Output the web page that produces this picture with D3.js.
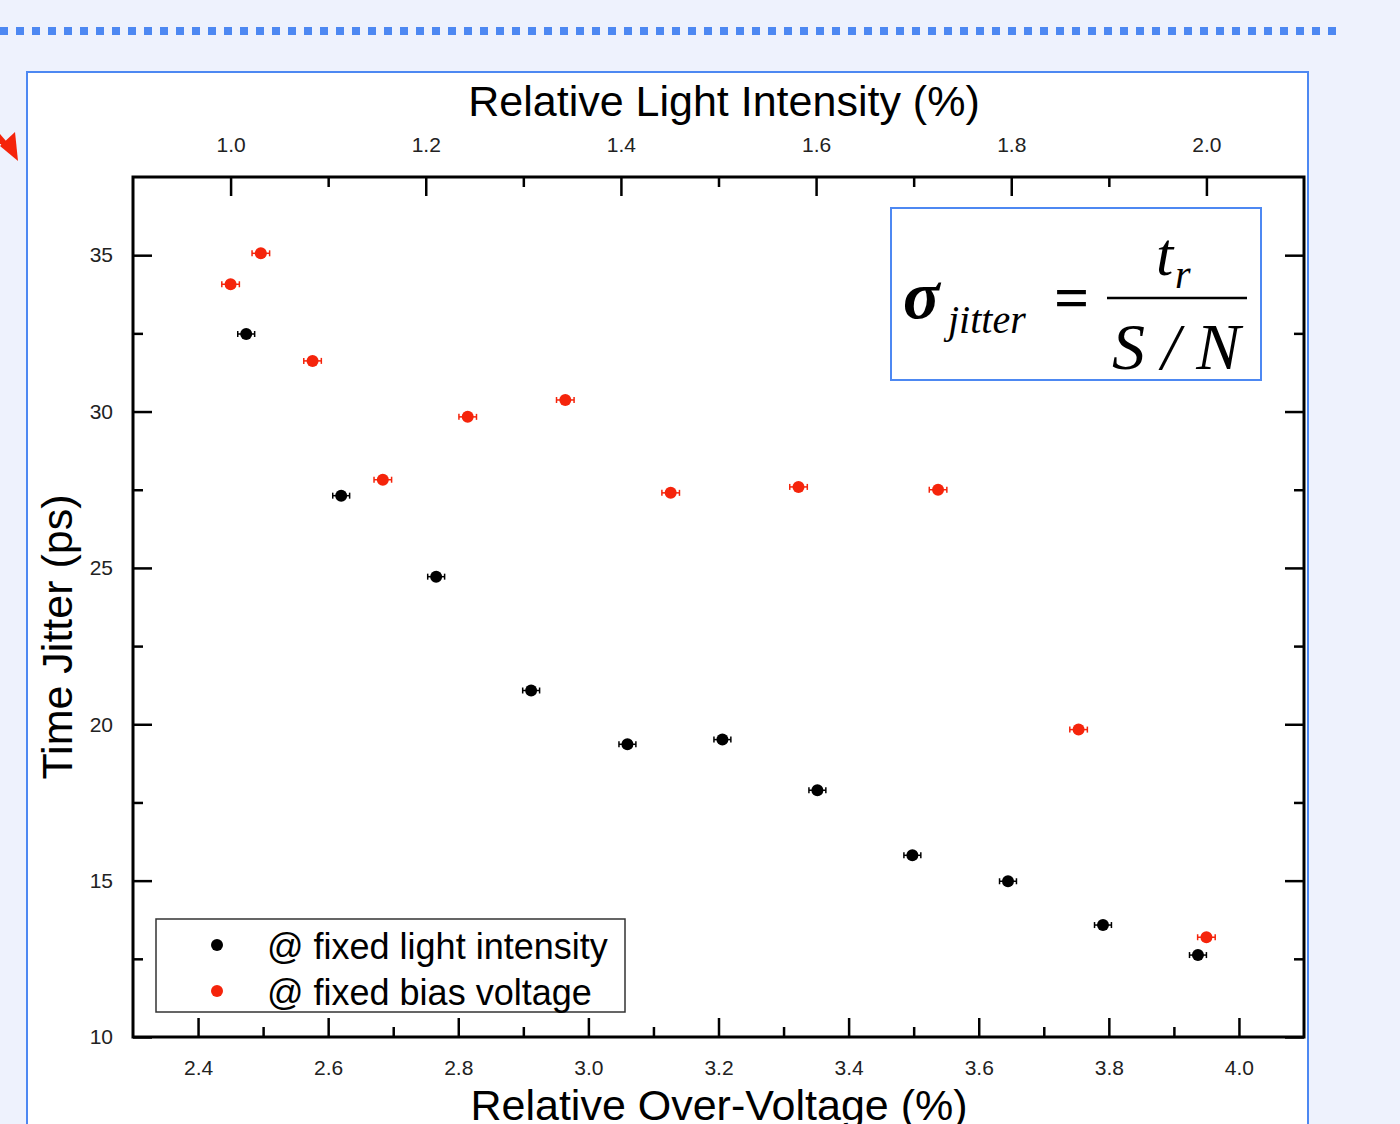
<!DOCTYPE html>
<html>
<head>
<meta charset="utf-8">
<script src="https://cdn.jsdelivr.net/npm/d3@7"></script>
<style>
  html, body { margin: 0; padding: 0; background: #eef2fd; }
  svg { display: block; }
</style>
</head>
<body>
<script>
// Data
// =================================
// black points: time jitter vs relative over-voltage (bottom axis)
let overVoltage = [2.474, 2.62, 2.766, 2.912, 3.06, 3.206, 3.352, 3.498, 3.645, 3.791, 3.937];
let jitterFixedLight = [32.48, 27.31, 24.72, 21.08, 19.36, 19.51, 17.89, 15.81, 14.98, 13.58, 12.62];
let overVoltageErr = [0.013, 0.013, 0.013, 0.013, 0.013, 0.013, 0.013, 0.013, 0.013, 0.013, 0.013];

// red points: time jitter vs relative light intensity (top axis)
let lightIntensity = [1.0, 1.031, 1.084, 1.156, 1.243, 1.343, 1.451, 1.582, 1.725, 1.869, 2.0];
let jitterFixedBias = [34.07, 35.06, 31.62, 27.82, 29.83, 30.37, 27.40, 27.59, 27.50, 19.83, 13.19];
let lightIntensityErr = [0.009, 0.009, 0.009, 0.009, 0.009, 0.009, 0.009, 0.009, 0.009, 0.009, 0.009];

let bottomTicks = [2.4, 2.6, 2.8, 3.0, 3.2, 3.4, 3.6, 3.8, 4.0];
let bottomMinor = [2.5, 2.7, 2.9, 3.1, 3.3, 3.5, 3.7, 3.9];
let topTicks = [1.0, 1.2, 1.4, 1.6, 1.8, 2.0];
let topMinor = [1.1, 1.3, 1.5, 1.7, 1.9];
let leftTicks = [10, 15, 20, 25, 30, 35];
let leftMinor = [12.5, 17.5, 22.5, 27.5, 32.5];

let legendLabels = ['@ fixed light intensity', '@ fixed bias voltage'];

// Set up our chart
//= ================================
let svgWidth = 1400;
let svgHeight = 1124;
let margin = { top: 177, right: 96, bottom: 87, left: 133 };
let width = svgWidth - margin.left - margin.right;
let height = svgHeight - margin.top - margin.bottom;

let blue = '#4d88f2';
let red = '#f5240b';
let font = "'Liberation Sans', Arial, sans-serif";
let serif = "'Liberation Serif', 'Times New Roman', serif";

let svg = d3.select('body')
  .append('svg')
  .attr('width', svgWidth)
  .attr('height', svgHeight);

// slide decoration: dotted rule, red arrow, white panel
svg.append('line')
  .attr('x1', 0).attr('x2', 1336)
  .attr('y1', 31).attr('y2', 31)
  .attr('stroke', blue)
  .attr('stroke-width', 8)
  .attr('stroke-dasharray', '8,8');

svg.append('line')
  .attr('x1', -20).attr('y1', 115)
  .attr('x2', 8).attr('y2', 148)
  .attr('stroke', red)
  .attr('stroke-width', 6);
svg.append('polygon')
  .attr('points', '18,161 0,146 15,132')
  .attr('fill', red);

svg.append('rect')
  .attr('x', 27).attr('y', 72)
  .attr('width', 1281).attr('height', 1100)
  .attr('fill', 'white')
  .attr('stroke', blue)
  .attr('stroke-width', 2);

let chartGroup = svg.append('g')
  .attr('transform', `translate(${margin.left}, ${margin.top})`);

// Create Scales
// ============================================
let xBottom = d3.scaleLinear().domain([2.3, 4.1]).range([0, width]);
let xTop = d3.scaleLinear().domain([0.9, 2.1]).range([0, width]);
let yScale = d3.scaleLinear().domain([10, 37.5]).range([height, 0]);

// Create Axes (ticks point inward)
// =============================================
function styleAxis(g) {
  g.select('.domain').remove();
  g.selectAll('line').attr('stroke', 'black').attr('stroke-width', 2.5);
  g.selectAll('text')
    .attr('font-family', font)
    .attr('font-size', '21px')
    .attr('fill', '#222');
}

chartGroup.append('g')
  .attr('transform', `translate(0, ${height})`)
  .call(d3.axisBottom(xBottom).tickValues(bottomTicks).tickFormat(d3.format('.1f'))
    .tickSize(-19).tickPadding(23))
  .call(styleAxis);
chartGroup.append('g')
  .attr('transform', `translate(0, ${height})`)
  .call(d3.axisBottom(xBottom).tickValues(bottomMinor).tickFormat('').tickSize(-10))
  .call(styleAxis);

chartGroup.append('g')
  .call(d3.axisTop(xTop).tickValues(topTicks).tickFormat(d3.format('.1f'))
    .tickSize(-19).tickPadding(25))
  .call(styleAxis);
chartGroup.append('g')
  .call(d3.axisTop(xTop).tickValues(topMinor).tickFormat('').tickSize(-10))
  .call(styleAxis);

chartGroup.append('g')
  .call(d3.axisLeft(yScale).tickValues(leftTicks).tickSize(-19).tickPadding(20))
  .call(styleAxis);
chartGroup.append('g')
  .call(d3.axisLeft(yScale).tickValues(leftMinor).tickFormat('').tickSize(-10))
  .call(styleAxis);

chartGroup.append('g')
  .attr('transform', `translate(${width}, 0)`)
  .call(d3.axisRight(yScale).tickValues(leftTicks).tickFormat('').tickSize(-19))
  .call(styleAxis);
chartGroup.append('g')
  .attr('transform', `translate(${width}, 0)`)
  .call(d3.axisRight(yScale).tickValues(leftMinor).tickFormat('').tickSize(-10))
  .call(styleAxis);

// frame
chartGroup.append('rect')
  .attr('width', width)
  .attr('height', height)
  .attr('fill', 'none')
  .attr('stroke', 'black')
  .attr('stroke-width', 3);

// axis titles
svg.append('text')
  .attr('x', 724).attr('y', 116)
  .attr('text-anchor', 'middle')
  .attr('font-family', font)
  .attr('font-size', '43px')
  .text('Relative Light Intensity (%)');

svg.append('text')
  .attr('x', 719).attr('y', 1120)
  .attr('text-anchor', 'middle')
  .attr('font-family', font)
  .attr('font-size', '43px')
  .text('Relative Over-Voltage (%)');

svg.append('text')
  .attr('transform', 'translate(72, 637) rotate(-90)')
  .attr('text-anchor', 'middle')
  .attr('font-family', font)
  .attr('font-size', '43px')
  .text('Time Jitter (ps)');

// Show all data
// ===================================
let blackData = overVoltage.map((x, i) => ({ x: x, y: jitterFixedLight[i], e: overVoltageErr[i] }));
let redData = lightIntensity.map((x, i) => ({ x: x, y: jitterFixedBias[i], e: lightIntensityErr[i] }));

function drawSeries(data, xs, color) {
  let g = chartGroup.append('g');
  g.selectAll('line.err')
    .data(data)
    .enter()
    .append('line')
    .attr('class', 'err')
    .attr('x1', d => xs(d.x - d.e))
    .attr('x2', d => xs(d.x + d.e))
    .attr('y1', d => yScale(d.y))
    .attr('y2', d => yScale(d.y))
    .attr('stroke', color)
    .attr('stroke-width', 1.5);
  [-1, 1].forEach(function(s) {
    g.selectAll('line.cap' + (s + 1))
      .data(data)
      .enter()
      .append('line')
      .attr('class', 'cap' + (s + 1))
      .attr('x1', d => xs(d.x + s * d.e))
      .attr('x2', d => xs(d.x + s * d.e))
      .attr('y1', d => yScale(d.y) - 3)
      .attr('y2', d => yScale(d.y) + 3)
      .attr('stroke', color)
      .attr('stroke-width', 1.5);
  });
  g.selectAll('circle')
    .data(data)
    .enter()
    .append('circle')
    .attr('cx', d => xs(d.x))
    .attr('cy', d => yScale(d.y))
    .attr('r', 6)
    .attr('fill', color);
}
drawSeries(blackData, xBottom, 'black');
drawSeries(redData, xTop, red);

// Legend
// ===================================
let legend = svg.append('g').attr('transform', 'translate(156, 919)');
legend.append('rect')
  .attr('width', 469).attr('height', 93)
  .attr('fill', 'white')
  .attr('stroke', '#333')
  .attr('stroke-width', 1.5);
let legendRows = legend.selectAll('g.row')
  .data(legendLabels)
  .enter()
  .append('g')
  .attr('class', 'row')
  .attr('transform', (d, i) => `translate(0, ${26 + i * 46})`);
legendRows.append('circle')
  .attr('cx', 61).attr('cy', 0).attr('r', 6)
  .attr('fill', (d, i) => i === 0 ? 'black' : red);
legendRows.append('text')
  .attr('x', 111).attr('y', 14)
  .attr('font-family', font)
  .attr('font-size', '36px')
  .text(d => d);

// Formula box
// ===================================
let fbox = svg.append('g').attr('transform', 'translate(891, 208)');
fbox.append('rect')
  .attr('width', 370).attr('height', 172)
  .attr('fill', 'white')
  .attr('stroke', blue)
  .attr('stroke-width', 2);
fbox.append('text')
  .attr('x', 12).attr('y', 110)
  .attr('font-family', serif)
  .attr('font-style', 'italic')
  .attr('font-weight', 'bold')
  .attr('font-size', '68px')
  .text('σ');
fbox.append('text')
  .attr('x', 57).attr('y', 125)
  .attr('font-family', serif)
  .attr('font-style', 'italic')
  .attr('font-size', '40px')
  .text('jitter');
fbox.append('text')
  .attr('x', 163).attr('y', 110)
  .attr('font-family', serif)
  .attr('font-weight', 'bold')
  .attr('font-size', '62px')
  .text('=');
fbox.append('line')
  .attr('x1', 216).attr('x2', 356)
  .attr('y1', 90).attr('y2', 90)
  .attr('stroke', 'black')
  .attr('stroke-width', 2.5);
fbox.append('text')
  .attr('x', 265).attr('y', 67)
  .attr('font-family', serif)
  .attr('font-style', 'italic')
  .attr('font-size', '62px')
  .text('t');
fbox.append('text')
  .attr('x', 284).attr('y', 80)
  .attr('font-family', serif)
  .attr('font-style', 'italic')
  .attr('font-size', '40px')
  .text('r');
fbox.append('text')
  .attr('x', 221).attr('y', 161)
  .attr('font-family', serif)
  .attr('font-style', 'italic')
  .attr('font-size', '66px')
  .text('S / N');
</script>
</body>
</html>
